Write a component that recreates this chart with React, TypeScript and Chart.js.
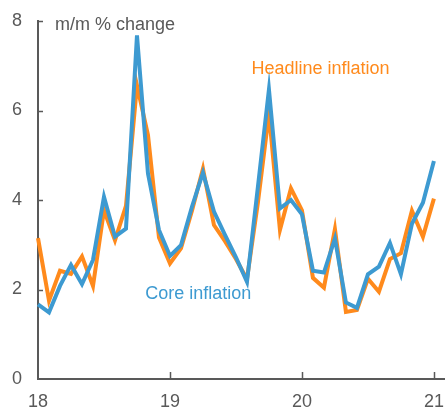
import React, { useEffect, useRef } from "react";
import { Chart, registerables } from "chart.js";

Chart.register(...registerables);

// Monthly observations, Jan 2018 .. Jan 2021
const coreInflation = [
  1.67, 1.49, 2.08, 2.55, 2.12, 2.66, 4.07, 3.18, 3.36, 7.68, 4.59, 3.33,
  2.75, 2.99, 3.85, 4.61, 3.74, 3.22, 2.72, 2.17, 4.3, 6.47, 3.81, 4.0,
  3.68, 2.42, 2.38, 3.14, 1.71, 1.59, 2.34, 2.51, 3.04, 2.34, 3.47, 3.94,
  4.87,
];
const headlineInflation = [
  3.15, 1.75, 2.42, 2.35, 2.74, 2.08, 3.77, 3.1, 3.87, 6.56, 5.45, 3.16,
  2.58, 2.92, 3.76, 4.7, 3.44, 3.08, 2.68, 2.23, 3.95, 5.93, 3.33, 4.26,
  3.77, 2.26, 2.04, 3.35, 1.5, 1.54, 2.24, 1.95, 2.68, 2.81, 3.76, 3.18,
  4.03,
];
const startYear = 18;
const yearTicks = [18, 19, 20, 21];
const yearLabels = ["18", "19", "20", "21"];
const yTicks = [0, 2, 4, 6, 8];

const FONT = "'Liberation Sans', Arial, sans-serif";
const GREY = "#595959";
const ORANGE = "#FF8A1C";
const BLUE = "#3D9AD1";

function toPoints(values: number[]) {
  return values.map((v, i) => ({ x: startYear + i / 12, y: v }));
}

function noPad(scale: any) {
  scale.paddingLeft = 0;
  scale.paddingRight = 0;
  scale.paddingTop = 0;
  scale.paddingBottom = 0;
}

export default function App() {
  const ref = useRef<HTMLCanvasElement | null>(null);

  useEffect(() => {
    document.body.style.margin = "0";
    const canvas = ref.current;
    if (!canvas) return;

    const decorations = {
      id: "decorations",
      afterDraw(chart: any) {
        const ctx = chart.ctx;
        const xs = chart.scales.x;
        const ys = chart.scales.y;
        const left = chart.chartArea.left;
        const bottom = chart.chartArea.bottom;
        ctx.save();
        ctx.strokeStyle = GREY;
        ctx.lineWidth = 1.5;
        ctx.beginPath();
        yTicks.forEach((v) => {
          if (v === 0) return;
          const y = Math.round(ys.getPixelForValue(v)) + 0.5;
          ctx.moveTo(left, y);
          ctx.lineTo(left + 5, y);
        });
        yearTicks.forEach((v, i) => {
          if (i === 0) return;
          const x = Math.round(xs.getPixelForValue(v)) + 0.5;
          ctx.moveTo(x, bottom);
          ctx.lineTo(x, bottom - 7);
        });
        ctx.stroke();

        ctx.font = `18px ${FONT}`;
        ctx.textBaseline = "alphabetic";
        ctx.textAlign = "left";
        ctx.fillStyle = GREY;
        ctx.fillText("m/m % change", left + 17, ys.getPixelForValue(8) + 8.6);
        ctx.fillStyle = ORANGE;
        ctx.fillText("Headline inflation", xs.getPixelForValue(19.618), ys.getPixelForValue(6.81));
        ctx.fillStyle = BLUE;
        ctx.fillText("Core inflation", xs.getPixelForValue(18.813), ys.getPixelForValue(1.79));
        ctx.restore();
      },
    };

    const chart = new Chart(canvas, {
      type: "line",
      data: {
        datasets: [
          {
            label: "Core inflation",
            data: toPoints(coreInflation),
            borderColor: BLUE,
            borderWidth: 4,
            pointRadius: 0,
            tension: 0,
            fill: false,
            clip: false as any,
          },
          {
            label: "Headline inflation",
            data: toPoints(headlineInflation),
            borderColor: ORANGE,
            borderWidth: 4,
            pointRadius: 0,
            tension: 0,
            fill: false,
            clip: false as any,
          },
        ],
      },
      options: {
        responsive: false,
        animation: false,
        layout: { padding: { top: 21, right: 0, left: 0, bottom: 0 } },
        plugins: {
          legend: { display: false },
          tooltip: { enabled: false },
        },
        scales: {
          x: {
            type: "linear",
            min: 18,
            max: 21.084,
            afterBuildTicks(scale: any) {
              scale.ticks = yearTicks.map((v) => ({ value: v }));
            },
            afterFit(scale: any) {
              scale.height = 31;
              noPad(scale);
            },
            grid: { display: false, drawTicks: false },
            border: { display: true, color: GREY, width: 2 },
            ticks: {
              color: GREY,
              font: { family: FONT, size: 18 },
              padding: 12,
              maxRotation: 0,
              autoSkip: false,
              callback: (v: any) => {
                const idx = yearTicks.indexOf(Number(v));
                return idx >= 0 ? yearLabels[idx] : "";
              },
            },
          },
          y: {
            min: 0,
            max: 8,
            afterBuildTicks(scale: any) {
              scale.ticks = yTicks.map((v) => ({ value: v }));
            },
            afterFit(scale: any) {
              scale.width = 38;
              noPad(scale);
            },
            grid: { display: false, drawTicks: false },
            border: { display: true, color: GREY, width: 2 },
            ticks: {
              color: GREY,
              font: { family: FONT, size: 18 },
              padding: 16,
            },
          },
        },
      },
      plugins: [decorations],
    });

    return () => chart.destroy();
  }, []);

  return (
    <div style={{ width: 445, height: 410 }}>
      <canvas ref={ref} width={445} height={410} />
    </div>
  );
}
